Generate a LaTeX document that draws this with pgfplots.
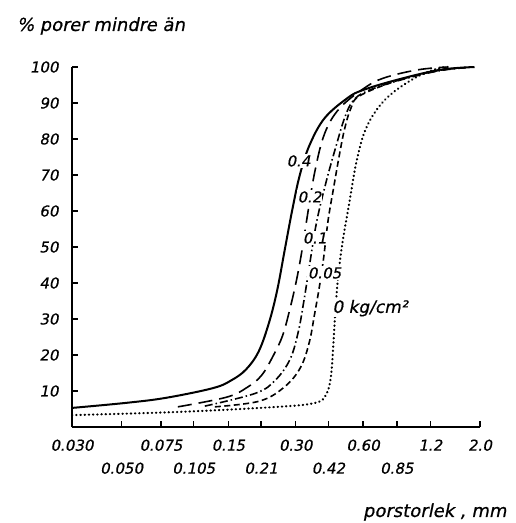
\documentclass[border=0pt]{standalone}
\usepackage{pgfplots}
\pgfplotsset{compat=1.18}
\usepackage{fontspec}
\newfontfamily\hand{DejaVu Sans}[FakeSlant=0.2, FakeBold=0.6]
\begin{document}
\begin{tikzpicture}
\begin{axis}[
  width=408pt, height=360pt, scale only axis,
  xmode=log, xmin=0.03, xmax=2.0, ymin=0, ymax=100,
  axis lines=left, axis line style={-, line width=2pt},
  tick align=inside, major tick length=6pt, tick style={line width=1.4pt, black},
  xminorticks=false, yminorticks=false,
  xtick={0.03,0.075,0.15,0.30,0.60,1.2,2.0},
  xticklabels={0.030,0.075,0.15,0.30,0.60,1.2,2.0},
  extra x ticks={0.05,0.105,0.21,0.42,0.85},
  extra x tick labels={0.050,0.105,0.21,0.42,0.85},
  extra x tick style={tick label style={yshift=-23pt}},
  ytick={10,20,30,40,50,60,70,80,90,100},
  yticklabels={10,20,30,40,50,60,70,80,90,100},
  tick label style={font=\hand\fontsize{15}{17}\selectfont},
  xticklabel style={yshift=-9pt},
  yticklabel style={xshift=-10pt},
  clip=false,
  every axis plot/.append style={line width=1.6pt, smooth, tension=0.6},
]
% 0.4 kg/cm2 (solid)
\addplot[black, line width=2pt] coordinates {
(0.030,5.3)(0.0523,6.7)(0.0789,8.1)(0.128,10.8)(0.155,13.0)(0.180,16.0)(0.205,21.0)
(0.228,29.0)(0.248,38.0)(0.268,49.2)(0.290,60.5)(0.313,70)(0.346,78.3)(0.404,85.8)
(0.512,91.4)(0.60,93.6)(0.847,96.4)(1.32,99.2)(1.89,100)};
% 0.2 (long dash)
\addplot[black, dash pattern=on 14pt off 7pt] coordinates {
(0.0892,5.6)(0.1476,8.3)(0.183,11.1)(0.2115,14.4)(0.239,20)(0.2625,25.5)(0.284,33.3)
(0.303,41)(0.320,49)(0.336,57.5)(0.365,70.8)(0.404,81.5)(0.471,88.5)(0.61,94.2)
(0.748,97)(1.05,99.2)(1.42,100)};
% 0.1 (dash dot)
\addplot[black, dash pattern=on 8pt off 3pt on 1.5pt off 3pt] coordinates {
(0.1177,5.8)(0.199,9.4)(0.244,13.1)(0.283,18.8)(0.308,26.4)(0.327,35.3)(0.346,45)
(0.372,56.9)(0.410,68)(0.452,77.5)(0.496,85.8)(0.540,90.5)(0.62,93.2)(0.85,96.1)
(1.3,98.9)(1.8,99.9)};
% 0.05 (dashed)
\addplot[black, dash pattern=on 6pt off 3.5pt] coordinates {
(0.1305,5.6)(0.207,7.2)(0.268,11.2)(0.315,16.5)(0.345,23.5)(0.366,32.0)(0.383,39)
(0.400,47)(0.419,57.5)(0.442,66)(0.467,74.5)(0.495,82.5)(0.530,88.6)(0.58,92)
(0.85,96.2)(1.3,99)(1.8,99.9)};
% 0 (dotted)
\addplot[black, line width=2.2pt, line cap=round, dash pattern=on 0.4pt off 3.8pt] coordinates {
(0.030,3.3)(0.091,4.2)(0.250,5.6)(0.360,6.6)(0.405,8.4)(0.430,13.5)(0.443,24)
(0.452,33)(0.465,42)(0.485,51)(0.520,62)(0.560,73.5)(0.610,82.0)(0.690,88.1)
(0.813,92.8)(1.04,97.2)(1.28,99.5)(1.45,100)};
\begin{scope}[every node/.style={fill=white, inner sep=1pt, font=\hand\fontsize{15}{17}\selectfont}]
\node at (axis cs:0.309,73.9) {0.4};
\node at (axis cs:0.346,63.9) {0.2};
\node at (axis cs:0.365,52.5) {0.1};
\node at (axis cs:0.404,42.8) {0.05};
\node[anchor=west, font=\hand\fontsize{17}{19}\selectfont] at (axis cs:0.432,33) {0 kg/cm²};
\end{scope}
\end{axis}
\node[font=\hand\fontsize{18}{20}\selectfont] at (29pt,401pt) {\% porer mindre än};
\node[font=\hand\fontsize{18}{20}\selectfont, anchor=east] at (438pt,-85pt) {porstorlek , mm};
\pgfresetboundingbox
\path[use as bounding box] (-72pt,-96pt) rectangle (443pt,427pt);
\end{tikzpicture}
\end{document}
